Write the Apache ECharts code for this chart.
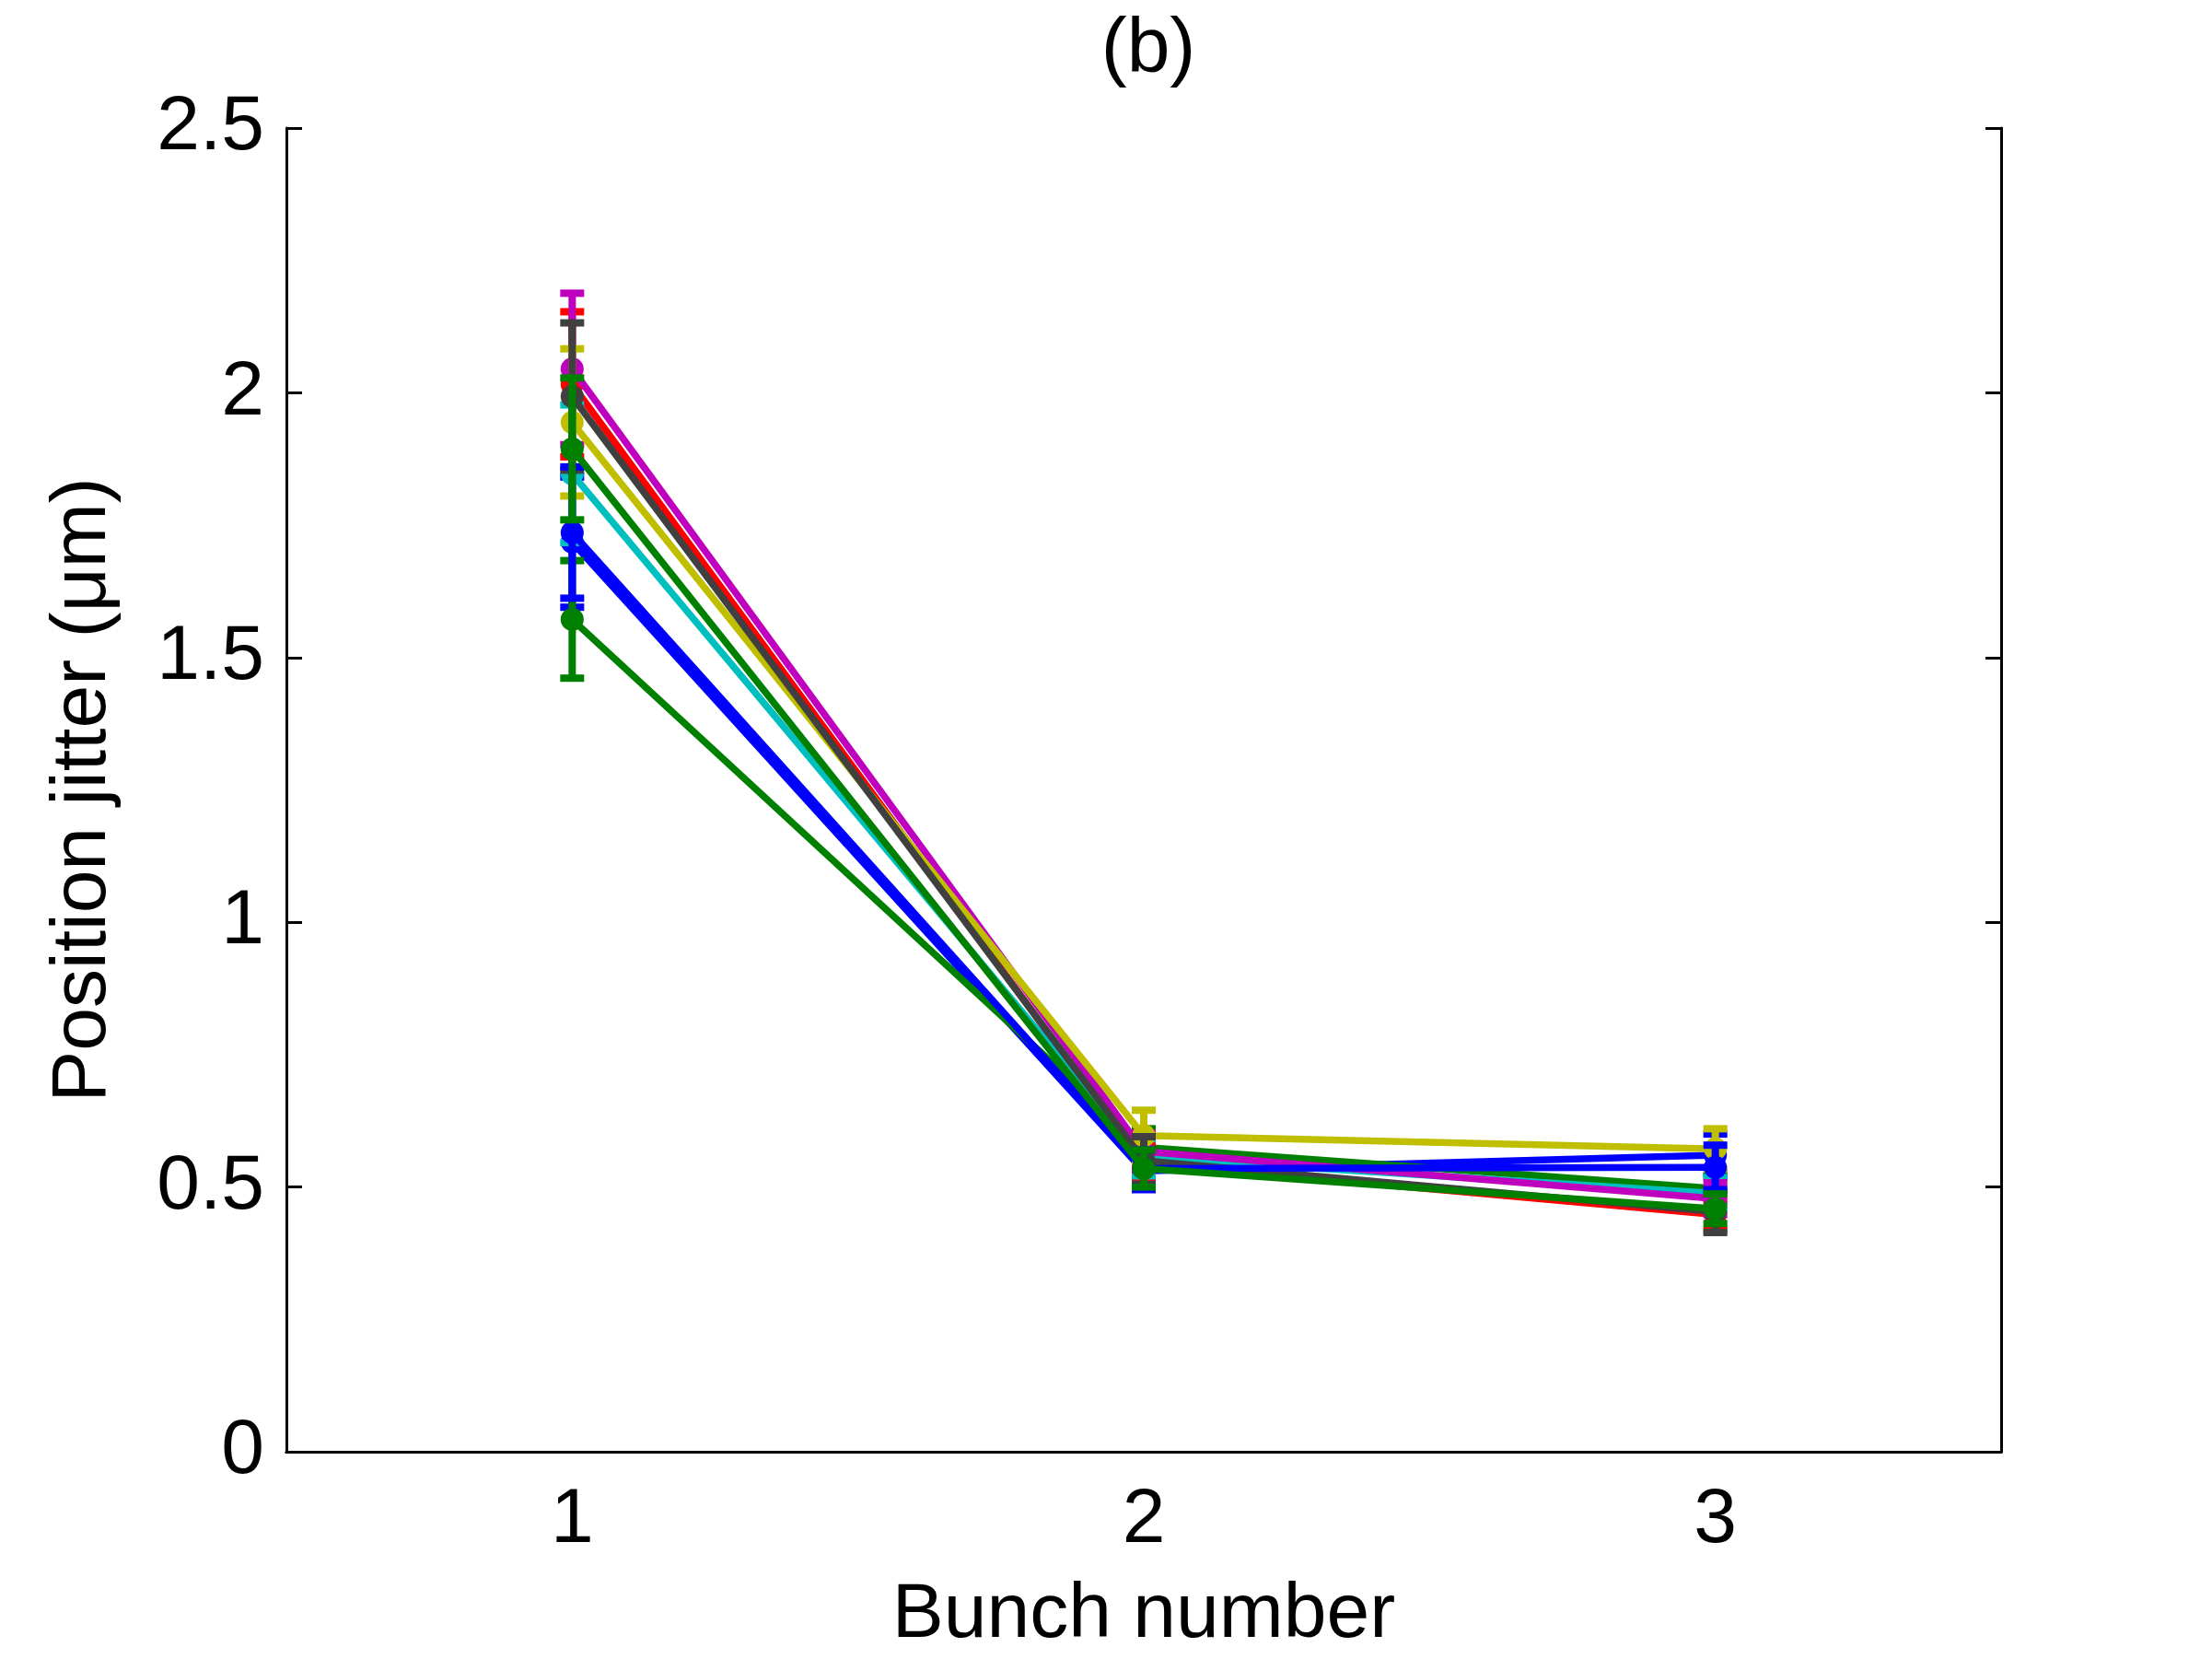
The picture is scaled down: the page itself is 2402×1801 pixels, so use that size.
<!DOCTYPE html>
<html>
<head>
<meta charset="utf-8">
<script src="https://cdn.jsdelivr.net/npm/echarts@6/dist/echarts.min.js"></script>
<style>
  html, body { margin: 0; padding: 0; background: #fff; }
  #chart { width: 2402px; height: 1801px; }
</style>
</head>
<body>
<div id="chart"></div>
<script>
// bunch index on x
var bunches = ['1', '2', '3'];
var yTicks = [0, 0.5, 1, 1.5, 2, 2.5];

// MATLAB line colours, in plotting order
var colors = ['#0000ff', '#008000', '#ff0000', '#00bfbf', '#bf00bf', '#bfbf00', '#404040', '#0000ff', '#008000'];

// mean jitter per bunch, one array per run
var run1 = [1.718, 0.530, 0.560];
var run2 = [1.572, 0.575, 0.497];
var run3 = [2.016, 0.545, 0.448];
var run4 = [1.847, 0.556, 0.488];
var run5 = [2.045, 0.567, 0.478];
var run6 = [1.944, 0.597, 0.572];
var run7 = [1.993, 0.550, 0.453];
var run8 = [1.736, 0.535, 0.537];
var run9 = [1.894, 0.535, 0.459];

// error half-widths
var err1 = [0.123, 0.035, 0.040];
var err2 = [0.111, 0.035, 0.030];
var err3 = [0.137, 0.035, 0.030];
var err4 = [0.130, 0.035, 0.030];
var err5 = [0.143, 0.035, 0.030];
var err6 = [0.139, 0.048, 0.038];
var err7 = [0.139, 0.045, 0.039];
var err8 = [0.124, 0.035, 0.042];
var err9 = [0.134, 0.035, 0.028];

var runs = [run1, run2, run3, run4, run5, run6, run7, run8, run9];
var errs = [err1, err2, err3, err4, err5, err6, err7, err8, err9];

var font = 'Liberation Sans, Arial, Helvetica, sans-serif';
var fs = 84;

function errorBarRender(color) {
  return function (params, api) {
    var x = api.value(0);
    var lo = api.coord([x, api.value(1)]);
    var hi = api.coord([x, api.value(2)]);
    var half = 13;
    var st = { stroke: color, lineWidth: 8 };
    return {
      type: 'group',
      children: [
        { type: 'line', shape: { x1: lo[0], y1: lo[1], x2: hi[0], y2: hi[1] }, style: st },
        { type: 'line', shape: { x1: hi[0] - half, y1: hi[1], x2: hi[0] + half, y2: hi[1] }, style: st },
        { type: 'line', shape: { x1: lo[0] - half, y1: lo[1], x2: lo[0] + half, y2: lo[1] }, style: st }
      ]
    };
  };
}

var series = [];
runs.forEach(function (r, i) {
  var e = errs[i];
  series.push({
    type: 'custom',
    renderItem: errorBarRender(colors[i]),
    encode: { x: 0, y: [1, 2] },
    data: r.map(function (v, k) { return [k, v - e[k], v + e[k]]; }),
    z: 10 + i * 2,
    silent: true
  });
  series.push({
    type: 'line',
    data: r,
    symbol: 'circle',
    symbolSize: 25,
    showSymbol: true,
    lineStyle: { color: colors[i], width: 7.5 },
    itemStyle: { color: colors[i] },
    z: 11 + i * 2,
    animation: false
  });
});

var chart = echarts.init(document.getElementById('chart'));
chart.setOption({
  animation: false,
  backgroundColor: '#fff',
  title: {
    text: '(b)',
    left: 1242,
    top: 8,
    textAlign: 'center',
    textStyle: { fontFamily: font, fontSize: fs, fontWeight: 'normal', color: '#000' }
  },
  grid: { left: 311, top: 139, width: 1862, height: 1437 },
  xAxis: [
    {
      type: 'category',
      data: bunches,
      boundaryGap: true,
      position: 'bottom',
      name: 'Bunch number',
      nameLocation: 'middle',
      nameGap: 136,
      nameTextStyle: { fontFamily: font, fontSize: fs, color: '#000' },
      axisLine: { lineStyle: { color: '#000', width: 3 } },
      axisTick: { alignWithLabel: true, inside: true, length: 17, lineStyle: { color: '#000', width: 3 } },
      axisLabel: { fontFamily: font, fontSize: fs, color: '#000', margin: 33 },
      splitLine: { show: false }
    },
    {
      type: 'category',
      data: bunches,
      boundaryGap: true,
      position: 'top',
      axisLine: { lineStyle: { color: '#000', width: 3 } },
      axisTick: { alignWithLabel: true, inside: true, length: 17, lineStyle: { color: '#000', width: 3 } },
      axisLabel: { show: false },
      splitLine: { show: false }
    }
  ],
  yAxis: [
    {
      type: 'value',
      min: yTicks[0],
      max: yTicks[yTicks.length - 1],
      interval: 0.5,
      position: 'left',
      name: 'Position jitter (μm)',
      nameLocation: 'middle',
      nameGap: 178,
      nameTextStyle: { fontFamily: font, fontSize: fs, color: '#000' },
      axisLine: { show: true, lineStyle: { color: '#000', width: 3 } },
      axisTick: { show: true, inside: true, length: 17, lineStyle: { color: '#000', width: 3 } },
      axisLabel: { fontFamily: font, fontSize: fs, color: '#000', margin: 24 },
      splitLine: { show: false }
    },
    {
      type: 'value',
      min: yTicks[0],
      max: yTicks[yTicks.length - 1],
      interval: 0.5,
      position: 'right',
      axisLine: { show: true, lineStyle: { color: '#000', width: 3 } },
      axisTick: { show: true, inside: true, length: 17, lineStyle: { color: '#000', width: 3 } },
      axisLabel: { show: false },
      splitLine: { show: false }
    }
  ],
  series: series
});
</script>
</body>
</html>
